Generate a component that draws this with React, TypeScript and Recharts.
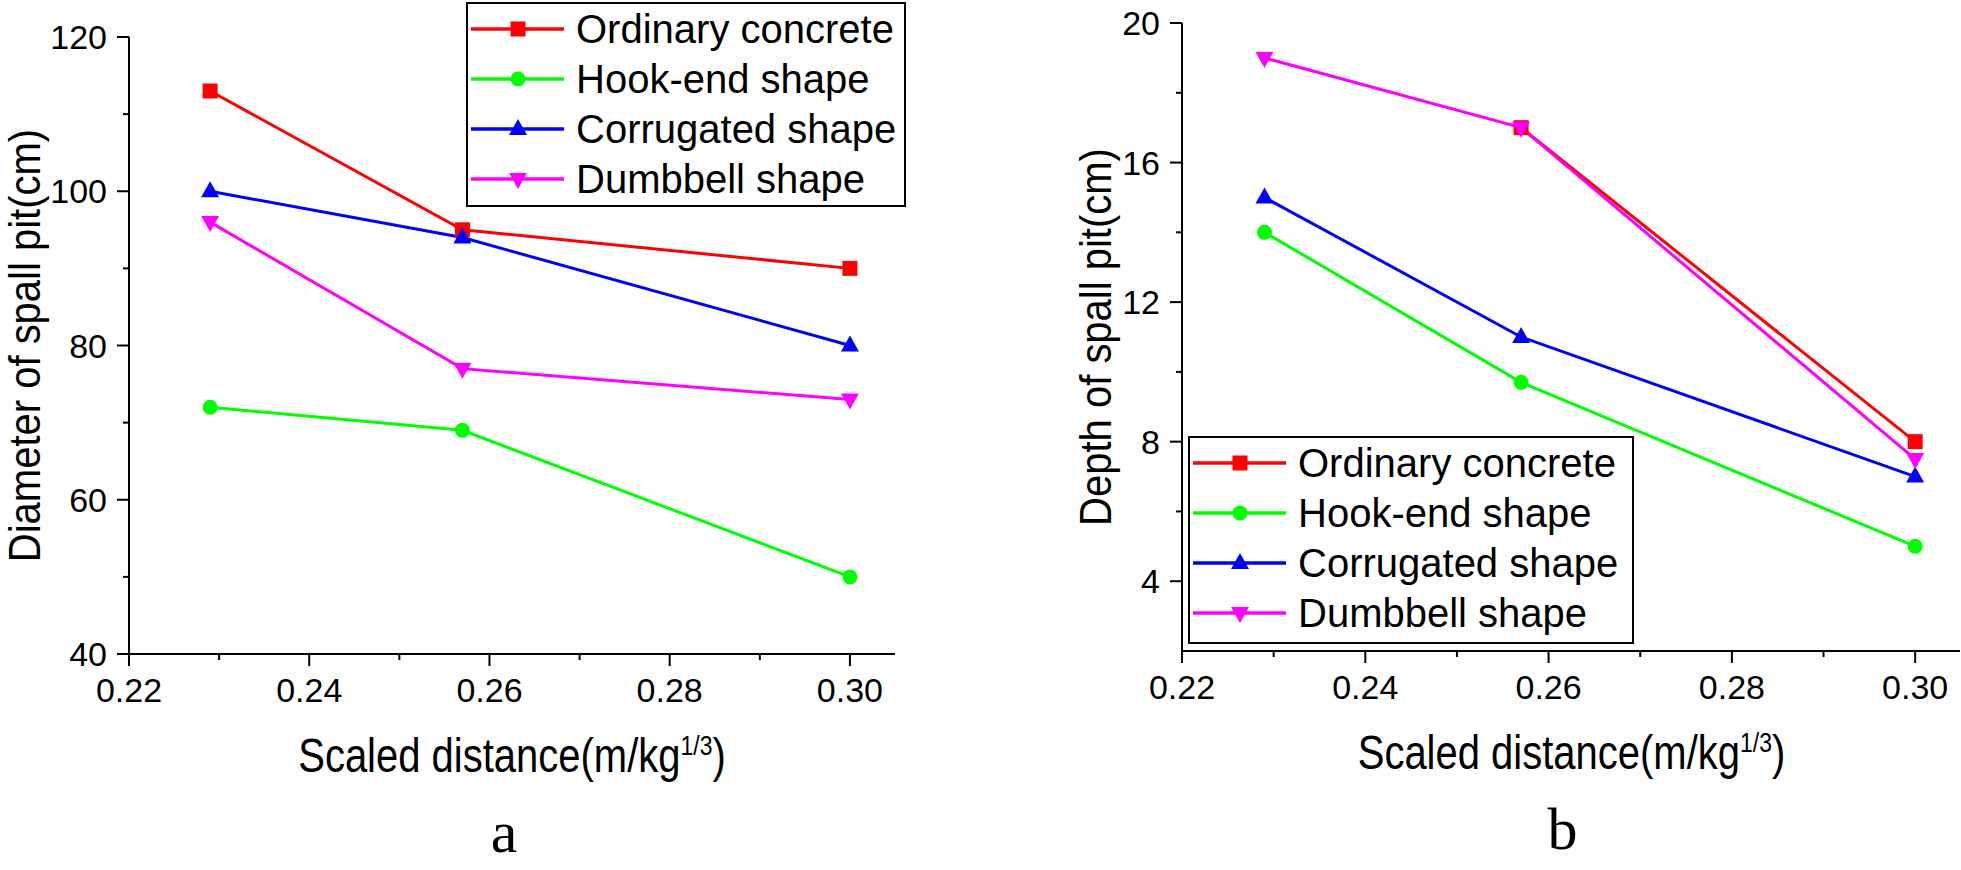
import React from "react";
import { LineChart, Line, XAxis, YAxis, Legend } from "recharts";

// scaled distance (m/kg^1/3)
const distance = [0.229, 0.257, 0.3];

// panel a: diameter of spall pit (cm)
const diameterOrdinary = [113, 95, 90];
const diameterHookEnd = [72, 69, 50];
const diameterCorrugated = [100, 94, 80];
const diameterDumbbell = [96, 77, 73];

// panel b: depth of spall pit (cm) - no red marker shows at the first distance
const depthOrdinary = [null, 17, 8];
const depthHookEnd = [14, 9.7, 5];
const depthCorrugated = [15, 11, 7];
const depthDumbbell = [19, 17, 7.5];

const xTicks = [0.22, 0.23, 0.24, 0.25, 0.26, 0.27, 0.28, 0.29, 0.3];
const diameterTicks = [40, 50, 60, 70, 80, 90, 100, 110, 120];
const depthTicks = [4, 6, 8, 10, 12, 14, 16, 18, 20];

const seriesNames = ["Ordinary concrete", "Hook-end shape", "Corrugated shape", "Dumbbell shape"];
const seriesKeys = ["ordinary", "hookEnd", "corrugated", "dumbbell"];
const seriesColors = ["#ff0000", "#00ff00", "#0000ff", "#ff00ff"];
const seriesShapes = ["square", "circle", "triangle", "triangleDown"];

const SANS = '"Liberation Sans", Arial, sans-serif';
const SERIF = '"Liberation Serif", "Times New Roman", serif';

const buildRows = (cols: (number | null)[][]) =>
  distance.map((x, i) => {
    const row: any = { x };
    seriesKeys.forEach((k, s) => (row[k] = cols[s][i]));
    return row;
  });

const diameterData = buildRows([diameterOrdinary, diameterHookEnd, diameterCorrugated, diameterDumbbell]);
const depthData = buildRows([depthOrdinary, depthHookEnd, depthCorrugated, depthDumbbell]);

function Marker({ shape, color, cx, cy }: any) {
  if (cx == null || cy == null) return null;
  if (shape === "square") return <rect x={cx - 7.5} y={cy - 7.5} width={15} height={15} fill={color} />;
  if (shape === "circle") return <circle cx={cx} cy={cy} r={7.5} fill={color} />;
  if (shape === "triangle")
    return <polygon points={`${cx},${cy - 10} ${cx + 9},${cy + 6} ${cx - 9},${cy + 6}`} fill={color} />;
  return <polygon points={`${cx},${cy + 10} ${cx + 9},${cy - 6} ${cx - 9},${cy - 6}`} fill={color} />;
}

function XTick({ x, y, payload }: any) {
  const v = payload.value;
  const major = Math.round(v * 100) % 2 === 0;
  return (
    <g>
      <line x1={x} y1={y} x2={x} y2={y + (major ? 12 : 6)} stroke="#000" strokeWidth={2} />
      {major && (
        <text x={x} y={y + 48} textAnchor="middle" fontSize={34} fontFamily={SANS} fill="#000">
          {v.toFixed(2)}
        </text>
      )}
    </g>
  );
}

function YTick({ x, y, payload, step }: any) {
  const v = payload.value;
  const major = v % step === 0;
  return (
    <g>
      <line x1={x - (major ? 12 : 6)} y1={y} x2={x} y2={y} stroke="#000" strokeWidth={2} />
      {major && (
        <text x={x - 22} y={y + 12} textAnchor="end" fontSize={34} fontFamily={SANS} fill="#000">
          {v}
        </text>
      )}
    </g>
  );
}

function XTitle({ viewBox, letter, letterDx }: any) {
  const cx = viewBox.x + viewBox.width / 2;
  const base = viewBox.y + 118;
  return (
    <g>
      <text
        transform={`translate(${cx},${base}) scale(1,1.18)`}
        textAnchor="middle"
        fontSize={40}
        fontFamily={SANS}
        fill="#000"
      >
        Scaled distance(m/kg
        <tspan fontSize={23} dy={-14}>1/3</tspan>
        <tspan fontSize={40} dy={14}>)</tspan>
      </text>
      <text x={cx + letterDx} y={viewBox.y + 198} textAnchor="middle" fontSize={60} fontFamily={SERIF} fill="#000">
        {letter}
      </text>
    </g>
  );
}

function YTitle({ viewBox, text, baseX }: any) {
  const cy = viewBox.y + viewBox.height / 2;
  return (
    <text
      transform={`translate(${baseX},${cy}) rotate(-90) scale(1,1.12)`}
      textAnchor="middle"
      fontSize={40}
      fontFamily={SANS}
      fill="#000"
    >
      {text}
    </text>
  );
}

function LegendBox() {
  return (
    <div
      style={{
        width: "100%",
        height: "100%",
        boxSizing: "border-box",
        border: "2px solid #000",
        background: "#fff",
      }}
    >
      {seriesNames.map((name, i) => (
        <div key={name} style={{ display: "flex", alignItems: "center", height: 50 }}>
          <svg width={96} height={50} style={{ marginLeft: 3, flex: "none" }}>
            <line x1={0} y1={25} x2={93} y2={25} stroke={seriesColors[i]} strokeWidth={3.5} />
            <Marker shape={seriesShapes[i]} color={seriesColors[i]} cx={47} cy={25} />
          </svg>
          <span
            style={{
              marginLeft: 9,
              fontFamily: SANS,
              fontSize: 40,
              lineHeight: "50px",
              color: "#000",
              whiteSpace: "nowrap",
            }}
          >
            {name}
          </span>
        </div>
      ))}
    </div>
  );
}

function Panel({ data, yDomain, yTicks, yStep, yTitle, yTitleX, yWidth, top, right, xHeight, legendPos, letter, letterDx }: any) {
  return (
    <LineChart width={980} height={870} data={data} margin={{ top, right, bottom: 0, left: 0 }}>
      <XAxis
        type="number"
        dataKey="x"
        domain={[0.22, 0.305]}
        ticks={xTicks}
        interval={0}
        tickSize={0}
        tickMargin={0}
        tickLine={false}
        height={xHeight}
        axisLine={{ stroke: "#000", strokeWidth: 2 }}
        tick={<XTick />}
        label={<XTitle letter={letter} letterDx={letterDx} />}
      />
      <YAxis
        type="number"
        domain={yDomain}
        ticks={yTicks}
        interval={0}
        width={yWidth}
        tickSize={0}
        tickMargin={0}
        tickLine={false}
        axisLine={{ stroke: "#000", strokeWidth: 2 }}
        tick={<YTick step={yStep} />}
        label={<YTitle text={yTitle} baseX={yTitleX} />}
      />
      <Legend
        layout="vertical"
        align="center"
        verticalAlign="middle"
        content={() => <LegendBox />}
        wrapperStyle={legendPos}
      />
      {seriesKeys.map((k, i) => (
        <Line
          key={k}
          type="linear"
          dataKey={k}
          name={seriesNames[i]}
          stroke={seriesColors[i]}
          strokeWidth={3}
          isAnimationActive={false}
          activeDot={false}
          dot={(p: any) => (
            <Marker key={`${k}-${p.index}`} shape={seriesShapes[i]} color={seriesColors[i]} cx={p.cx} cy={p.cy} />
          )}
        />
      ))}
    </LineChart>
  );
}

export default function App() {
  return (
    <div style={{ position: "absolute", left: 0, top: 0, width: 1961, height: 870, background: "#fff", overflow: "hidden" }}>
      <div style={{ position: "absolute", left: 0, top: 0 }}>
        <Panel
          data={diameterData}
          yDomain={[40, 120]}
          yTicks={diameterTicks}
          yStep={20}
          yTitle="Diameter of spall pit(cm)"
          yTitleX={40}
          yWidth={129}
          top={37}
          right={85}
          xHeight={216}
          legendPos={{ left: 466, top: 2, width: 440, height: 205 }}
          letter="a"
          letterDx={-8}
        />
      </div>
      <div style={{ position: "absolute", left: 980, top: 0 }}>
        <Panel
          data={depthData}
          yDomain={[2, 20]}
          yTicks={depthTicks}
          yStep={4}
          yTitle="Depth of spall pit(cm)"
          yTitleX={131}
          yWidth={202}
          top={23}
          right={-1}
          xHeight={219}
          legendPos={{ left: 208, top: 436, width: 446, height: 208 }}
          letter="b"
          letterDx={-9}
        />
      </div>
    </div>
  );
}
